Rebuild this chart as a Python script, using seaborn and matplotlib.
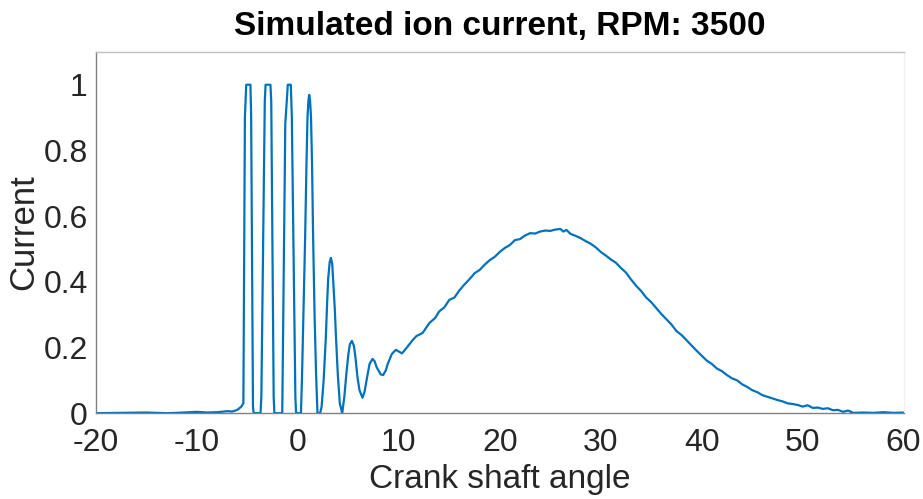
import numpy as np
import pandas as pd
import matplotlib
matplotlib.use("Agg")
import matplotlib.pyplot as plt
import seaborn as sns

crank_angle = [
    -20.0, -17.0, -15.0, -13.0, -12.0, -10.5, -10.0, -9.0, -8.0, -7.0, -6.5, -6.0, -5.6, -5.4,
    -5.25, -5.12, -5.05, -4.70, -4.63, -4.45, -4.38, -3.70, -3.62, -3.28, -3.20, -2.72, -2.64,
    -2.40, -2.33, -1.55, -1.45, -1.25, -1.10, -1.00, -0.70, -0.60, -0.25, -0.18,
    0.30, 0.40, 0.55, 0.72, 0.85, 0.95, 1.05, 1.12, 1.20, 1.30, 1.40, 1.50, 1.65, 1.80, 1.94, 2.20,
    2.35, 2.55, 2.77, 2.90, 3.00, 3.15, 3.27, 3.40, 3.50, 3.65, 3.77, 3.95, 4.15, 4.39,
    4.60, 4.80, 5.00, 5.15, 5.35, 5.55, 5.70, 5.90, 6.10, 6.40,
    6.60, 6.80, 7.10, 7.39, 7.60, 7.80, 8.20, 8.45, 8.70, 8.90, 9.30, 9.71, 10.31, 10.80, 11.30,
    11.75, 12.35, 13.01, 13.60,
    14.0, 14.5, 15.0, 15.5, 16.0, 16.5, 17.0, 17.5, 18.0, 18.5, 19.0, 19.5, 20.0, 20.5,
    21.0, 21.5, 22.0, 22.5, 23.0, 23.5, 24.0, 24.5, 25.0, 25.5, 26.0, 26.3, 26.6, 27.0,
    27.5, 28.0, 28.5, 29.0, 29.5, 30.0, 30.5, 31.0, 31.5, 32.0, 32.5, 33.0, 33.5, 34.0,
    34.5, 35.0, 35.5, 36.0, 36.5, 37.0, 37.5, 38.0, 38.5, 39.0, 39.5, 40.0, 40.5, 41.0,
    41.5, 42.0, 42.5, 43.0, 43.5, 44.0, 44.5, 45.0, 45.5, 46.0, 46.5, 47.0, 47.5, 48.0,
    48.5, 49.0, 49.5, 50.0, 50.5, 51.0, 51.5, 52.0, 52.5, 53.0, 53.5, 54.0, 54.5, 55.0,
    56.0, 57.0, 58.0, 59.0, 60.0,
]
ion_current = [
    0.000, 0.001, 0.002, 0.000, 0.001, 0.003, 0.004, 0.002, 0.003, 0.006, 0.005, 0.010, 0.020, 0.030,
    0.900, 1.000, 1.000, 1.000, 0.900, 0.020, 0.000, 0.000, 0.050, 0.950, 1.000, 1.000, 0.950,
    0.050, 0.000, 0.000, 0.300, 0.880, 0.950, 1.000, 1.000, 0.900, 0.050, 0.000,
    0.000, 0.100, 0.300, 0.540, 0.760, 0.900, 0.955, 0.969, 0.955, 0.900, 0.760, 0.550, 0.300, 0.120, 0.000, 0.000,
    0.020, 0.100, 0.233, 0.340, 0.410, 0.460, 0.473, 0.455, 0.400, 0.320, 0.233, 0.120, 0.030, 0.000,
    0.050, 0.120, 0.180, 0.210, 0.220, 0.205, 0.170, 0.110, 0.070, 0.047,
    0.065, 0.100, 0.150, 0.165, 0.158, 0.140, 0.118, 0.116, 0.130, 0.150, 0.180, 0.193, 0.182, 0.200, 0.220,
    0.235, 0.244, 0.274, 0.290,
    0.310, 0.322, 0.345, 0.352, 0.374, 0.392, 0.408, 0.426, 0.436, 0.452, 0.466, 0.476, 0.491, 0.503,
    0.512, 0.527, 0.530, 0.541, 0.548, 0.547, 0.553, 0.556, 0.555, 0.559, 0.561, 0.553, 0.558, 0.546,
    0.540, 0.533, 0.524, 0.516, 0.505, 0.491, 0.480, 0.468, 0.458, 0.442, 0.428, 0.407, 0.388, 0.372,
    0.352, 0.338, 0.320, 0.302, 0.286, 0.270, 0.250, 0.238, 0.222, 0.206, 0.190, 0.175, 0.160, 0.150,
    0.136, 0.128, 0.116, 0.106, 0.100, 0.088, 0.080, 0.070, 0.064, 0.055, 0.050, 0.045, 0.040, 0.036,
    0.030, 0.028, 0.025, 0.020, 0.024, 0.016, 0.017, 0.013, 0.015, 0.009, 0.010, 0.004, 0.008, 0.001,
    0.002, 0.001, 0.003, 0.001, 0.002,
]
x_ticks = [-20, -10, 0, 10, 20, 30, 40, 50, 60]
y_ticks = [0, 0.2, 0.4, 0.6, 0.8, 1.0]
y_tick_labels = ["0", "0.2", "0.4", "0.6", "0.8", "1"]

df = pd.DataFrame({"angle": crank_angle, "current": ion_current})

sns.set_style("white")
plt.rcParams["font.family"] = ["Liberation Sans", "DejaVu Sans"]

fig = plt.figure(figsize=(9.23, 4.99), dpi=100)
ax = fig.add_axes([0.104, 0.172, 0.875, 0.724])

sns.lineplot(data=df, x="angle", y="current", ax=ax, color="#0072BD",
             linewidth=1.6, estimator=None, sort=False)

ax.set_xlim(-20, 60)
ax.set_ylim(0, 1.1)
ax.set_xticks(x_ticks)
ax.set_xticklabels([str(t) for t in x_ticks])
ax.set_yticks(y_ticks)
ax.set_yticklabels(y_tick_labels)

ax.tick_params(axis="both", direction="in", length=6, width=0.8, color="#808080",
               labelsize=23, labelcolor="#262626")
ax.tick_params(axis="x", pad=11)
ax.tick_params(axis="y", pad=6)
ax.tick_params(top=False, right=False)

ax.spines["left"].set_color("#808080")
ax.spines["bottom"].set_color("#808080")
ax.spines["top"].set_color("#c0c0c0")
ax.spines["right"].set_color("#f0f0f0")
for s in ax.spines.values():
    s.set_linewidth(1.0)

ax.set_xlabel("Crank shaft angle", fontsize=24, color="#262626", labelpad=4)
ax.set_ylabel("Current", fontsize=25, color="#262626", labelpad=2)
ax.set_title("Simulated ion current, RPM: 3500", fontsize=24, fontweight="bold",
             color="black", pad=12)

fig.savefig("out.png", dpi=100)
